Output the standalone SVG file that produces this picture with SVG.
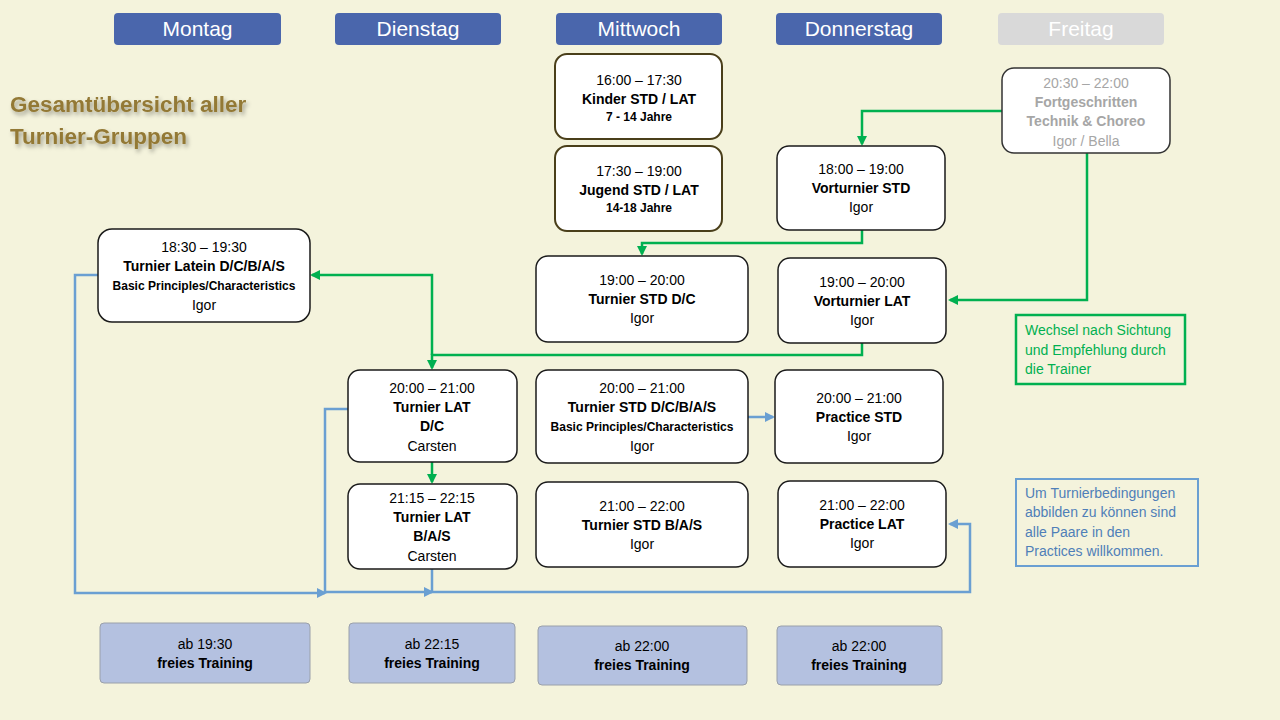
<svg xmlns="http://www.w3.org/2000/svg" width="1280" height="720" viewBox="0 0 1280 720">
<style>
text{font-family:"Liberation Sans",Arial,sans-serif;text-anchor:middle;font-size:14px;fill:#000}
.b{font-weight:bold}
.s{font-size:12px}
.hd{fill:#4a66ac}
.hdt{fill:#fff;font-size:21px}
.node{fill:#fff;stroke:#1a1a1a;stroke-width:1.5}
.kid{fill:#fff;stroke:#4a3f1a;stroke-width:2}
.ft{fill:#fff;stroke:#333;stroke-width:1.5}
.gt{fill:#a6a6a6}
.free{fill:#b4c1e0;stroke:#9aa0aa;stroke-width:1}
.g{fill:none;stroke:#00b050;stroke-width:2.5}
.bl{fill:none;stroke:#6a9fd2;stroke-width:2.5}
.note{text-anchor:start}
</style>
<defs>
<marker id="ag" markerWidth="10" markerHeight="10" refX="8" refY="5" orient="auto" markerUnits="userSpaceOnUse"><path d="M0,0 L10,5 L0,10 z" fill="#00b050"/></marker>
<marker id="ab" markerWidth="10" markerHeight="10" refX="8" refY="5" orient="auto" markerUnits="userSpaceOnUse"><path d="M0,0 L10,5 L0,10 z" fill="#6a9fd2"/></marker>
<filter id="sh" x="-5%" y="-20%" width="115%" height="150%"><feDropShadow dx="2" dy="3" stdDeviation="2" flood-color="#000" flood-opacity="0.35"/></filter>
</defs>
<rect width="1280" height="720" fill="#f4f3dc"/>

<g id="title" filter="url(#sh)">
<text x="10" y="112" class="b" style="text-anchor:start;font-size:22.5px;fill:#937936">Gesamtübersicht aller</text>
<text x="10" y="144" class="b" style="text-anchor:start;font-size:22.5px;fill:#937936">Turnier-Gruppen</text>
</g>

<g id="h-montag"><rect x="114" y="13" width="167" height="32" rx="4" class="hd"/><text x="197.5" y="36" class="hdt">Montag</text></g>
<g id="h-dienstag"><rect x="335" y="13" width="166" height="32" rx="4" class="hd"/><text x="418" y="36" class="hdt">Dienstag</text></g>
<g id="h-mittwoch"><rect x="556" y="13" width="166" height="32" rx="4" class="hd"/><text x="639" y="36" class="hdt">Mittwoch</text></g>
<g id="h-donnerstag"><rect x="776" y="13" width="166" height="32" rx="4" class="hd"/><text x="859" y="36" class="hdt">Donnerstag</text></g>
<g id="h-freitag"><rect x="998" y="13" width="166" height="32" rx="4" fill="#d9d9d9"/><text x="1081" y="36" class="hdt">Freitag</text></g>

<g id="connectors">
<path class="g" d="M1002,111 H862 V144" marker-end="url(#ag)"/>
<path class="g" d="M1087,153 V300 H950" marker-end="url(#ag)"/>
<path class="g" d="M862,230 V243 H642 V254" marker-end="url(#ag)"/>
<path class="g" d="M862,342 V355 H432 V368" marker-end="url(#ag)"/>
<path class="g" d="M432,355 V275 H312" marker-end="url(#ag)"/>
<path class="g" d="M432,462 V482" marker-end="url(#ag)"/>
<path class="bl" d="M98,275 H75 V593 H325" marker-end="url(#ab)"/>
<path class="bl" d="M348,409 H325 V592 H432" marker-end="url(#ab)"/>
<path class="bl" d="M432,569 V592 H970 V524 H950" marker-end="url(#ab)"/>
<path class="bl" d="M748,417 H773" marker-end="url(#ab)"/>
</g>

<g id="n-kinder"><rect x="555" y="54" width="167" height="85" rx="12" class="kid"/>
<text x="639" y="85">16:00 – 17:30</text><text x="639" y="104" class="b">Kinder STD / LAT</text><text x="639" y="121" class="b s">7 - 14 Jahre</text></g>
<g id="n-jugend"><rect x="555" y="146" width="167" height="85" rx="12" class="kid"/>
<text x="639" y="176">17:30 – 19:00</text><text x="639" y="195" class="b">Jugend STD / LAT</text><text x="639" y="212" class="b s">14-18 Jahre</text></g>

<g id="n-latein"><rect x="98" y="229" width="212" height="93" rx="14" class="node"/>
<text x="204" y="252">18:30 – 19:30</text><text x="204" y="271" class="b">Turnier Latein D/C/B/A/S</text><text x="204" y="290" class="b s">Basic Principles/Characteristics</text><text x="204" y="310">Igor</text></g>

<g id="n-stddc"><rect x="536" y="256" width="212" height="86" rx="12" class="node"/>
<text x="642" y="285">19:00 – 20:00</text><text x="642" y="304" class="b">Turnier STD D/C</text><text x="642" y="323">Igor</text></g>

<g id="n-vstd"><rect x="777" y="146" width="168" height="84" rx="12" class="node"/>
<text x="861" y="174">18:00 – 19:00</text><text x="861" y="193" class="b">Vorturnier STD</text><text x="861" y="212">Igor</text></g>

<g id="n-vlat"><rect x="778" y="258" width="168" height="85" rx="12" class="node"/>
<text x="862" y="287">19:00 – 20:00</text><text x="862" y="306" class="b">Vorturnier LAT</text><text x="862" y="325">Igor</text></g>

<g id="n-fort"><rect x="1002" y="68" width="168" height="85" rx="12" class="ft"/>
<text x="1086" y="88" class="gt">20:30 – 22:00</text><text x="1086" y="107" class="b gt">Fortgeschritten</text><text x="1086" y="126" class="b gt">Technik &amp; Choreo</text><text x="1086" y="146" class="gt">Igor / Bella</text></g>

<g id="note-wechsel"><rect x="1016" y="315" width="169" height="69" fill="none" stroke="#00b050" stroke-width="2.5"/>
<text x="1025" y="335" class="note" style="fill:#00b050">Wechsel nach Sichtung</text><text x="1025" y="355" class="note" style="fill:#00b050">und Empfehlung durch</text><text x="1025" y="374" class="note" style="fill:#00b050">die Trainer</text></g>

<g id="n-latdc"><rect x="348" y="370" width="169" height="92" rx="12" class="node"/>
<text x="432" y="393">20:00 – 21:00</text><text x="432" y="412" class="b">Turnier LAT</text><text x="432" y="431" class="b">D/C</text><text x="432" y="451">Carsten</text></g>

<g id="n-stdall"><rect x="536" y="370" width="212" height="93" rx="12" class="node"/>
<text x="642" y="393">20:00 – 21:00</text><text x="642" y="412" class="b">Turnier STD D/C/B/A/S</text><text x="642" y="431" class="b s">Basic Principles/Characteristics</text><text x="642" y="451">Igor</text></g>

<g id="n-pstd"><rect x="775" y="370" width="168" height="93" rx="12" class="node"/>
<text x="859" y="403">20:00 – 21:00</text><text x="859" y="422" class="b">Practice STD</text><text x="859" y="441">Igor</text></g>

<g id="n-latbas"><rect x="348" y="484" width="169" height="85" rx="12" class="node"/>
<text x="432" y="503">21:15 – 22:15</text><text x="432" y="522" class="b">Turnier LAT</text><text x="432" y="541" class="b">B/A/S</text><text x="432" y="561">Carsten</text></g>

<g id="n-stdbas"><rect x="536" y="482" width="212" height="85" rx="12" class="node"/>
<text x="642" y="511">21:00 – 22:00</text><text x="642" y="530" class="b">Turnier STD B/A/S</text><text x="642" y="549">Igor</text></g>

<g id="n-plat"><rect x="778" y="481" width="168" height="86" rx="12" class="node"/>
<text x="862" y="510">21:00 – 22:00</text><text x="862" y="529" class="b">Practice LAT</text><text x="862" y="548">Igor</text></g>

<g id="note-um"><rect x="1016" y="479" width="182" height="87" fill="none" stroke="#6a9fd2" stroke-width="2"/>
<text x="1025" y="498" class="note" style="fill:#4f7fb8">Um Turnierbedingungen</text><text x="1025" y="517" class="note" style="fill:#4f7fb8">abbilden zu können sind</text><text x="1025" y="537" class="note" style="fill:#4f7fb8">alle Paare in den</text><text x="1025" y="556" class="note" style="fill:#4f7fb8">Practices willkommen.</text></g>

<g id="f-mo"><rect x="100" y="623" width="210" height="60" rx="4" class="free"/><text x="205" y="649">ab 19:30</text><text x="205" y="668" class="b">freies Training</text></g>
<g id="f-di"><rect x="349" y="623" width="166" height="60" rx="4" class="free"/><text x="432" y="649">ab 22:15</text><text x="432" y="668" class="b">freies Training</text></g>
<g id="f-mi"><rect x="538" y="626" width="209" height="59" rx="4" class="free"/><text x="642" y="651">ab 22:00</text><text x="642" y="670" class="b">freies Training</text></g>
<g id="f-do"><rect x="777" y="626" width="165" height="59" rx="4" class="free"/><text x="859" y="651">ab 22:00</text><text x="859" y="670" class="b">freies Training</text></g>
</svg>
